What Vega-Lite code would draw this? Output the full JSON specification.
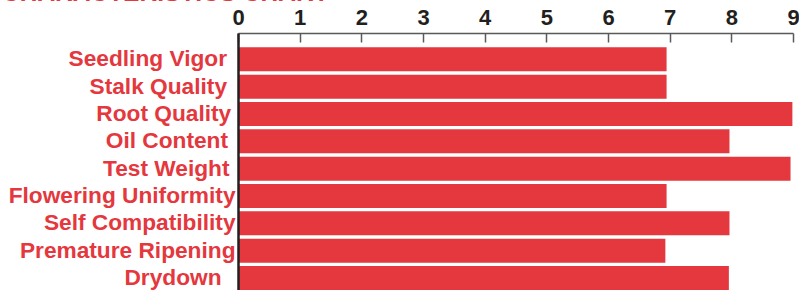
{
  "$schema": "https://vega.github.io/schema/vega-lite/v6.json",
  "width": 555,
  "height": 257,
  "autosize": {"type": "none"},
  "padding": {"left": 238, "top": 33, "right": 6, "bottom": 0},
  "background": "white",
  "title": {
    "text": "CHARACTERISTICS CHART",
    "anchor": "start",
    "frame": "group",
    "dx": -236,
    "offset": -19,
    "baseline": "alphabetic",
    "font": "Liberation Sans",
    "fontSize": 24.5,
    "fontWeight": "bold",
    "color": "#e4373e"
  },
  "data": {
    "values": [
      {"trait": "Seedling Vigor", "score": 6.95},
      {"trait": "Stalk Quality", "score": 6.95},
      {"trait": "Root Quality", "score": 8.99},
      {"trait": "Oil Content", "score": 7.97},
      {"trait": "Test Weight", "score": 8.96},
      {"trait": "Flowering Uniformity", "score": 6.95},
      {"trait": "Self Compatibility", "score": 7.97},
      {"trait": "Premature Ripening", "score": 6.93},
      {"trait": "Drydown", "score": 7.96}
    ]
  },
  "mark": {"type": "bar", "color": "#e4373e"},
  "encoding": {
    "y": {
      "field": "trait",
      "type": "nominal",
      "sort": null,
      "scale": {"paddingInner": 0.122, "paddingOuter": 0.262, "align": 1},
      "axis": {
        "title": null,
        "ticks": false,
        "zindex": 1,
        "domainColor": "#231f20",
        "domainWidth": 2.5,
        "labelColor": "#e4373e",
        "labelFont": "Liberation Sans",
        "labelFontWeight": "bold",
        "labelFontSize": 22.7,
        "labelLimit": 300,
        "labelPadding": {
          "condition": [
            {"test": "datum.value == 'Drydown'", "value": 17},
            {"test": "datum.value == 'Seedling Vigor' || datum.value == 'Stalk Quality'", "value": 11.5},
            {"test": "datum.value == 'Oil Content'", "value": 10.5},
            {"test": "datum.value == 'Test Weight'", "value": 9},
            {"test": "datum.value == 'Root Quality'", "value": 7.3}
          ],
          "value": 3
        }
      }
    },
    "x": {
      "field": "score",
      "type": "quantitative",
      "scale": {"domain": [0, 9], "nice": false},
      "axis": {
        "orient": "top",
        "title": null,
        "values": [0, 1, 2, 3, 4, 5, 6, 7, 8, 9],
        "grid": false,
        "zindex": 1,
        "tickSize": -9,
        "tickWidth": 1.5,
        "tickColor": "#58595b",
        "domainColor": "#58595b",
        "domainWidth": 1.5,
        "labelPadding": 13,
        "labelFont": "Liberation Sans",
        "labelFontWeight": "bold",
        "labelFontSize": 22,
        "labelColor": "#231f20",
        "labelFlush": false,
        "labelOverlap": false
      }
    }
  },
  "config": {"view": {"stroke": null}}
}
